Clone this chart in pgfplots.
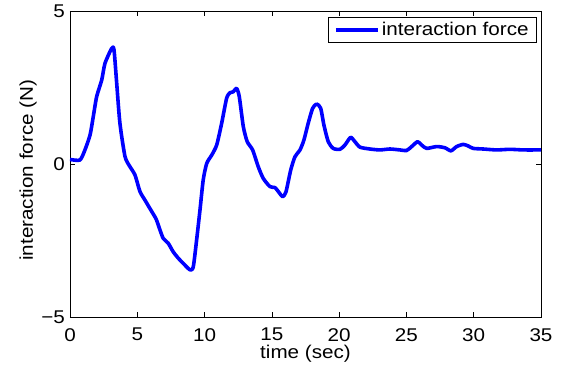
\documentclass[border=0pt]{standalone}
\usepackage{fontspec}
\setmainfont{Liberation Sans}[FakeStretch=1.12]
\usepackage{pgfplots}
\pgfplotsset{compat=1.18}
\begin{document}
\begin{tikzpicture}[font=\fontsize{18.5}{22}\selectfont]
\begin{axis}[
  scale only axis,
  width=471bp, height=306bp,
  xmin=0, xmax=35, ymin=-5, ymax=5,
  xtick={0,5,...,35},
  ytick={-5,0,5},
  yticklabels={−5,0,5},
  /pgf/number format/assume math mode=true,
  tick align=inside,
  major tick length=5bp,
  minor tick num=0,
  axis line style={line width=0.9bp},
  tick style={line width=0.7bp, black},
  xticklabel style={inner sep=0pt, anchor=north, yshift=-11bp},
  yticklabel style={inner sep=0pt, anchor=east, xshift=-5bp},
  xlabel={time (sec)},
  ylabel={interaction force (N)},
  every axis x label/.style={at={([yshift=-41bp]rel axis cs:0.5,0)}, anchor=base, inner sep=0pt},
  every axis y label/.style={at={([xshift=-37bp]rel axis cs:0,0.48)}, rotate=90, anchor=base, inner sep=0pt},
  legend style={at={([xshift=-4bp,yshift=-6bp]rel axis cs:1,1)}, anchor=north east,
    draw=black, line width=0.7bp, inner xsep=6bp, inner ysep=3bp,
    font=\fontsize{18.5}{22}\selectfont},
  legend cell align=left,
  legend image code/.code={\draw[#1] (0bp,0bp) -- (42bp,0bp);},
]
\addplot[blue, line width=3.6bp, line join=round, smooth, tension=0.4] coordinates {
(0,0.15) (0.74,0.13) (1.11,0.46) (1.49,0.95) (1.73,1.55) (1.98,2.2) (2.36,2.75)
(2.6,3.29) (3.1,3.78) (3.27,3.73) (3.47,2.64) (3.71,1.33) (4.09,0.24) (4.46,-0.09)
(4.83,-0.36) (5.2,-0.9) (5.57,-1.18) (6.0,-1.5) (6.4,-1.8) (6.69,-2.16) (6.93,-2.43)
(7.3,-2.59) (7.67,-2.87) (8.05,-3.08) (8.42,-3.25) (8.92,-3.46) (9.16,-3.36)
(9.41,-2.48) (9.66,-1.5) (9.9,-0.52) (10.16,0.02) (10.53,0.29) (10.9,0.62)
(11.27,1.33) (11.64,2.15) (11.89,2.33) (12.13,2.36) (12.38,2.47) (12.58,2.2)
(12.88,1.22) (13.17,0.73) (13.57,0.46) (13.99,-0.09) (14.36,-0.47) (14.86,-0.74)
(15.23,-0.77) (15.55,-0.94) (15.8,-1.07) (16.05,-0.91) (16.4,-0.2) (16.72,0.24)
(17.09,0.46) (17.38,0.78) (17.7,1.33) (18.03,1.82) (18.33,1.96) (18.63,1.82)
(18.87,1.27) (19.19,0.73) (19.56,0.51) (20.06,0.48) (20.43,0.62) (20.85,0.87)
(21.17,0.73) (21.55,0.55) (22.29,0.49) (23.03,0.46) (23.77,0.49) (24.52,0.46)
(25.01,0.44) (25.39,0.57) (25.83,0.73) (26.13,0.62) (26.5,0.51) (27.24,0.57)
(27.86,0.53) (28.31,0.43) (28.73,0.57) (29.22,0.64) (29.59,0.59) (29.96,0.51)
(30.71,0.49) (31.7,0.46) (32.69,0.48) (33.68,0.46) (35,0.46)
};
\addlegendentry{interaction force}
\end{axis}
\pgfresetboundingbox
\useasboundingbox (-70bp,-50bp) rectangle (497bp,317bp);
\end{tikzpicture}
\end{document}
